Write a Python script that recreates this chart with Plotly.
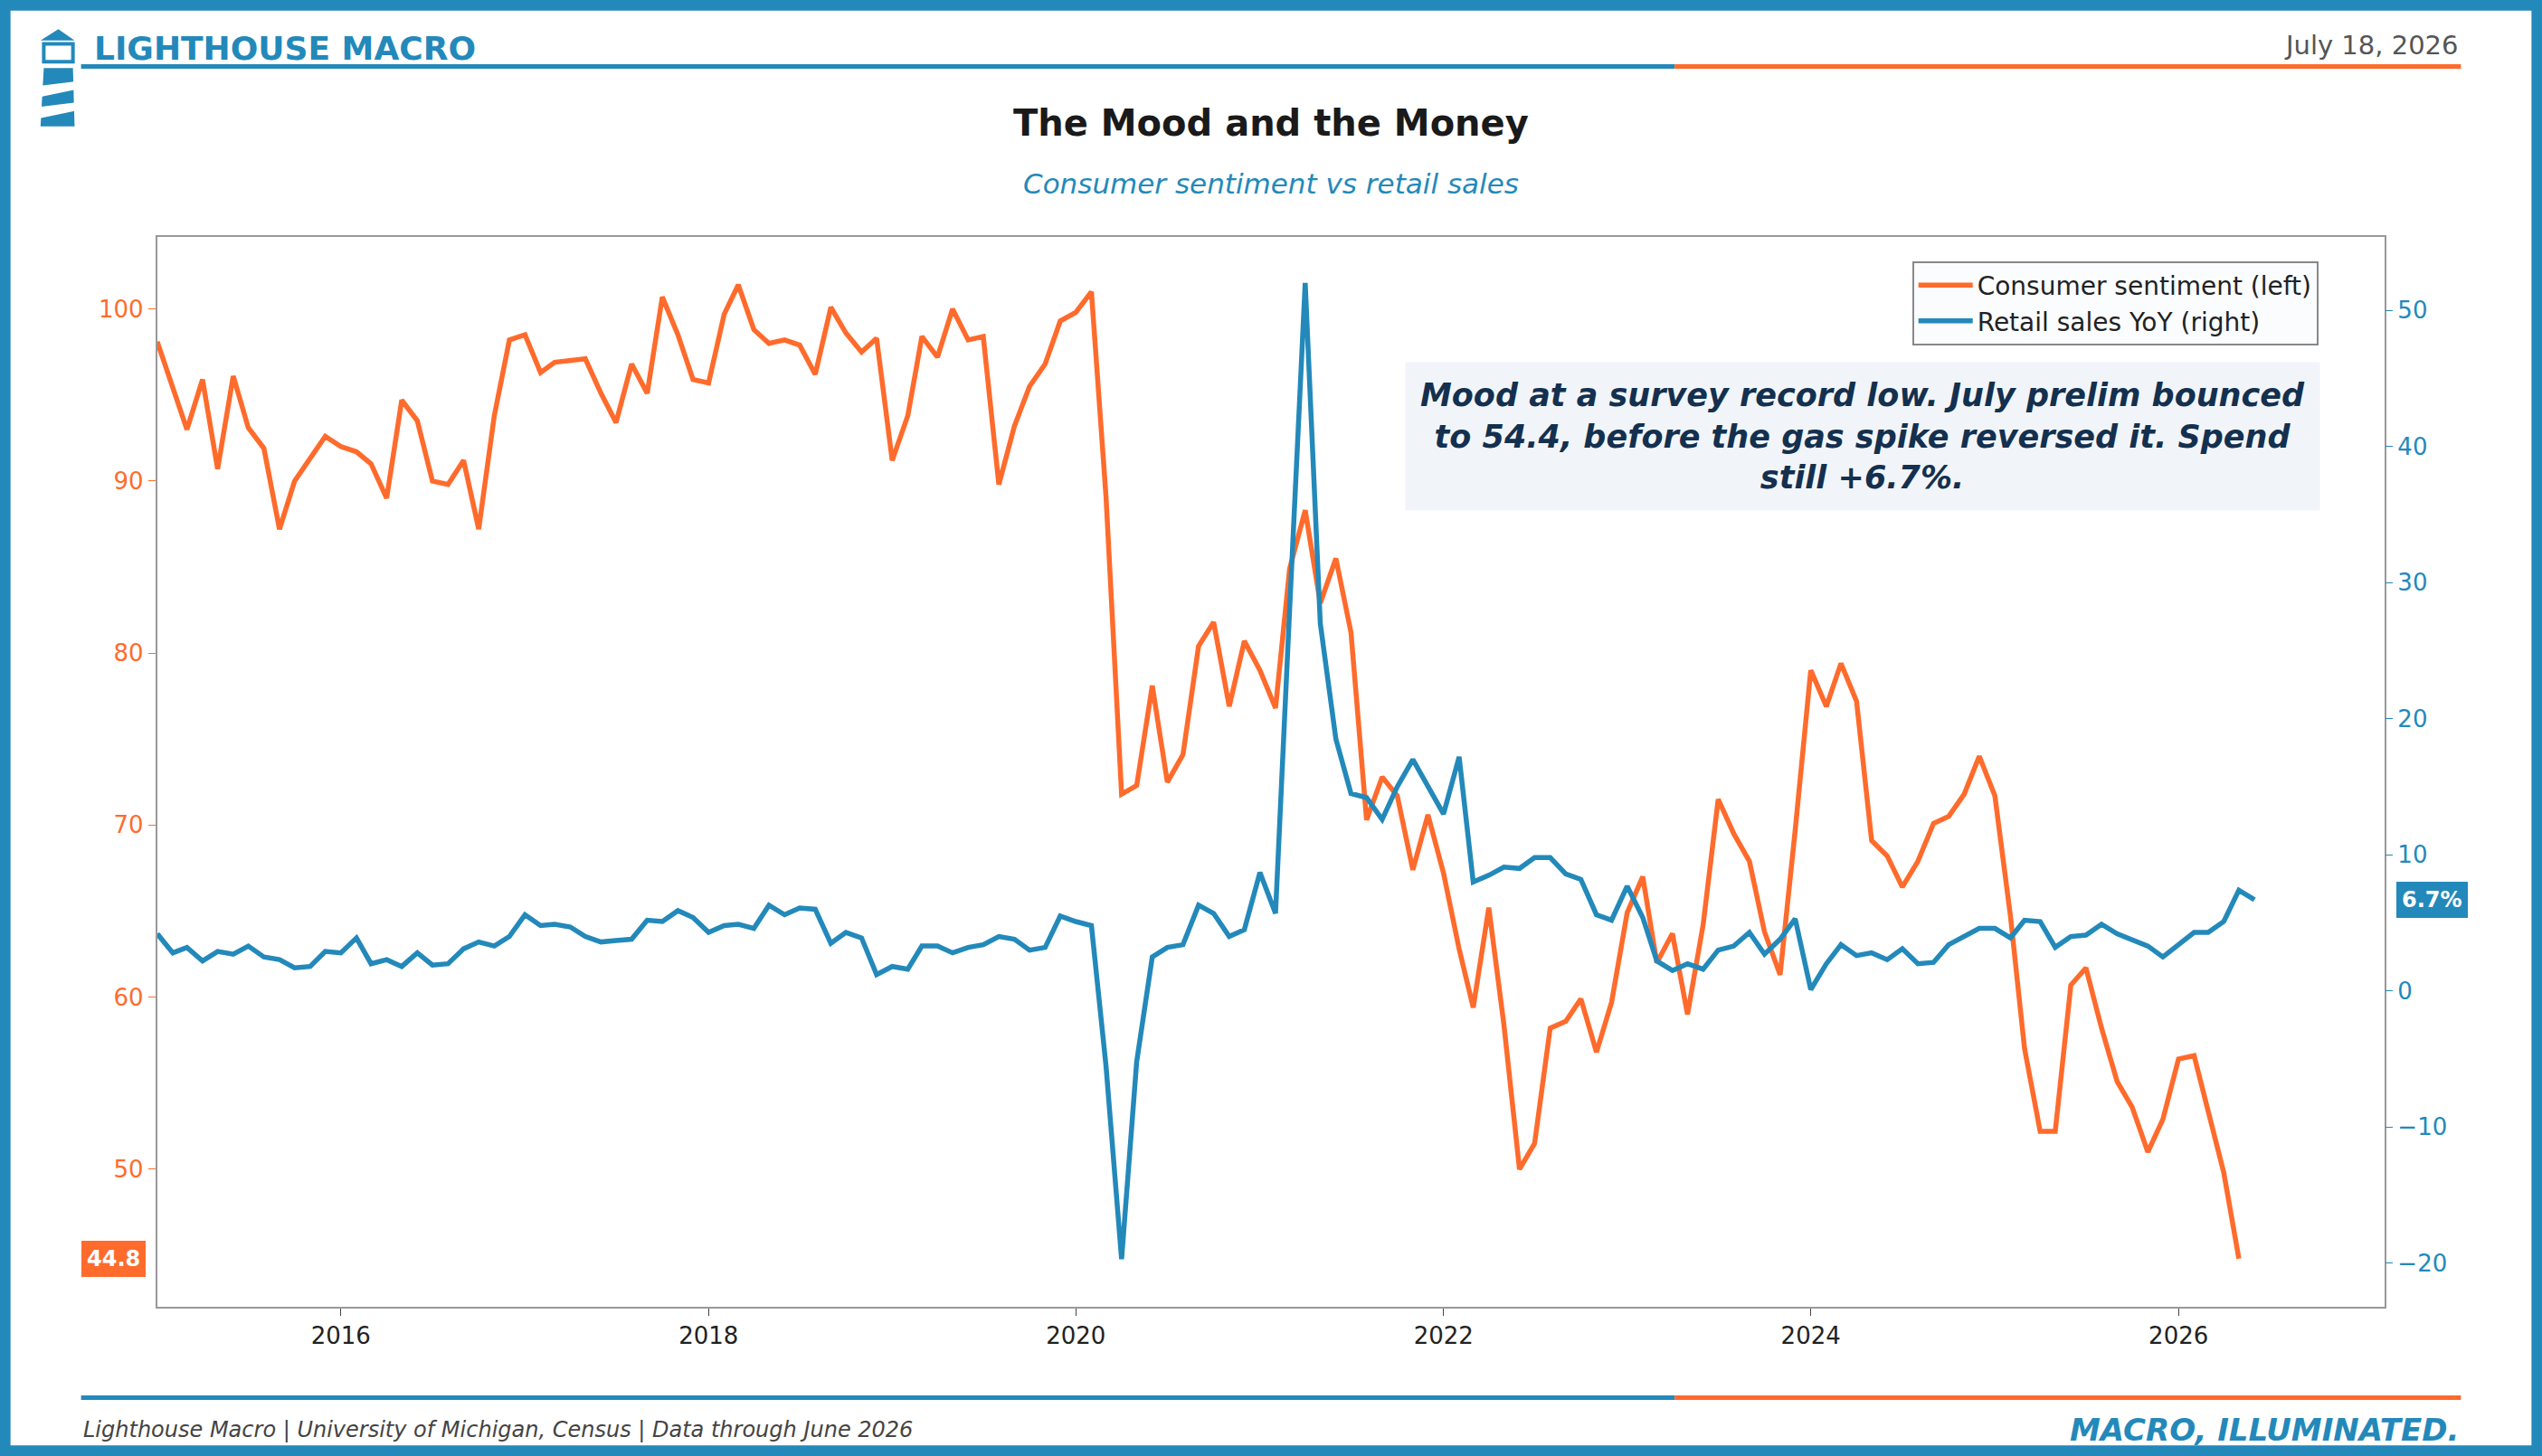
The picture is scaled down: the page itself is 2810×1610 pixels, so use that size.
import pandas as pd
import plotly.graph_objects as go

sentiment = [98.1,95.4,93.0,95.9,90.7,96.1,93.1,91.9,87.2,90.0,91.3,92.6,
             92.0,91.7,91.0,89.0,94.7,93.5,90.0,89.8,91.2,87.2,93.8,98.2,
             98.5,96.3,96.9,97.0,97.1,95.1,93.4,96.8,95.1,100.7,98.5,95.9,
             95.7,99.7,101.4,98.8,98.0,98.2,97.9,96.2,100.1,98.6,97.5,98.3,
             91.2,93.8,98.4,97.2,100.0,98.2,98.4,89.8,93.2,95.5,96.8,99.3,
             99.8,101.0,89.1,71.8,72.3,78.1,72.5,74.1,80.4,81.8,76.9,80.7,
             79.0,76.8,84.9,88.3,82.9,85.5,81.2,70.3,72.8,71.7,67.4,70.6,
             67.2,62.8,59.4,65.2,58.4,50.0,51.5,58.2,58.6,59.9,56.8,59.7,
             64.9,67.0,62.0,63.7,59.0,64.2,71.5,69.5,67.9,63.8,61.3,69.7,
             79.0,76.9,79.4,77.2,69.1,68.2,66.4,67.9,70.1,70.5,71.8,74.0,
             71.7,64.7,57.0,52.2,52.2,60.7,61.7,58.2,55.1,53.6,51.0,52.9,
             56.4,56.6,53.3,49.8,44.8]
retail = [4.2,2.8,3.2,2.2,2.9,2.7,3.3,2.5,2.3,1.7,1.8,2.9,
          2.8,3.9,2.0,2.3,1.8,2.8,1.9,2.0,3.1,3.6,3.3,4.0,
          5.6,4.8,4.9,4.7,4.0,3.6,3.7,3.8,5.2,5.1,5.9,5.4,
          4.3,4.8,4.9,4.6,6.3,5.6,6.1,6.0,3.5,4.3,3.9,1.2,
          1.8,1.6,3.3,3.3,2.8,3.2,3.4,4.0,3.8,3.0,3.2,5.5,
          5.1,4.8,-5.5,-19.7,-5.2,2.5,3.2,3.4,6.3,5.7,4.0,4.5,
          8.7,5.7,28.0,52.0,27.0,18.5,14.5,14.2,12.6,15.0,17.0,15.0,
          13.0,17.2,8.0,8.5,9.1,9.0,9.8,9.8,8.6,8.2,5.6,5.2,
          7.7,5.4,2.2,1.5,2.0,1.6,3.0,3.3,4.3,2.7,3.8,5.3,
          0.1,2.0,3.4,2.6,2.8,2.3,3.1,2.0,2.1,3.4,4.0,4.6,
          4.6,3.9,5.2,5.1,3.2,4.0,4.1,4.9,4.2,3.8,3.3,2.5,
          3.4,4.3,4.3,5.1,7.4,6.7]
sent_dates = pd.date_range("2015-01-01", periods=len(sentiment), freq="MS")
ret_dates = pd.date_range("2015-01-01", periods=len(retail), freq="MS")

ORANGE = "#FF6B2C"
BLUE = "#2389BA"
NAVY = "#14304F"

fig = go.Figure()
fig.add_trace(go.Scatter(x=sent_dates, y=sentiment, mode="lines", name="Consumer sentiment (left)",
                         line=dict(color=ORANGE, width=5.5)))
fig.add_trace(go.Scatter(x=ret_dates, y=retail, mode="lines", name="Retail sales YoY (right)",
                         line=dict(color=BLUE, width=5.5), yaxis="y2"))

x0, x1 = 97/1568, 1471/1568
y0, y1 = 1-806/898, 1-146/898
fig.update_layout(
    width=2810, height=1610, margin=dict(l=0, r=0, t=0, b=0),
    paper_bgcolor="white", plot_bgcolor="white",
    font=dict(family="DejaVu Sans", color="#222"),
    xaxis=dict(domain=[x0, x1], range=["2015-01-01", "2027-02-15"], showgrid=False,
               showline=True, linecolor="#999", linewidth=2, mirror=True,
               ticks="outside", ticklen=8, tickcolor="#444", dtick="M24", tick0="2016-01-01",
               tickformat="%Y", tickfont=dict(size=26, color="#222")),
    yaxis=dict(domain=[y0, y1], range=[42.0, 104.2], showgrid=False, zeroline=False,
               showline=True, linecolor="#999", linewidth=2, mirror=True,
               ticks="outside", ticklen=8, tickcolor=ORANGE, dtick=10,
               tickfont=dict(size=26, color=ORANGE)),
    yaxis2=dict(overlaying="y", side="right", anchor="x", range=[-23.2, 55.4], showgrid=False,
                zeroline=False, ticks="outside", ticklen=8, tickcolor=BLUE,
                tickvals=[-20, -10, 0, 10, 20, 30, 40, 50],
                tickfont=dict(size=26, color=BLUE)),
    legend=dict(x=1430/1568, y=1-161/898, xanchor="right", yanchor="top", xref="paper", yref="paper",
                bgcolor="rgba(250,252,254,0.95)", bordercolor="#888", borderwidth=2,
                font=dict(size=28, color="#222"), itemwidth=60),
    showlegend=True,
)

shapes = []
shapes.append(dict(type="rect", xref="paper", yref="paper", x0=0.002, x1=0.998, y0=0.0035, y1=0.9965,
                   line=dict(color=BLUE, width=12)))
for yy in [1-41/898, 1-862/898]:
    shapes.append(dict(type="line", xref="paper", yref="paper", x0=50/1568, x1=1033/1568, y0=yy, y1=yy,
                       line=dict(color=BLUE, width=5)))
    shapes.append(dict(type="line", xref="paper", yref="paper", x0=1033/1568, x1=1518/1568, y0=yy, y1=yy,
                       line=dict(color=ORANGE, width=5)))
shapes.append(dict(type="path", xref="paper", yref="paper",
                   path=f"M {25/1568} {1-25/898} L {36/1568} {1-18/898} L {46/1568} {1-25/898} Z",
                   fillcolor=BLUE, line=dict(width=0)))
shapes.append(dict(type="rect", xref="paper", yref="paper", x0=27/1568, x1=45/1568, y0=1-38/898, y1=1-27/898,
                   line=dict(color=BLUE, width=4)))
shapes.append(dict(type="path", xref="paper", yref="paper",
                   path=f"M {27/1568} {1-42/898} L {45/1568} {1-42/898} L {46/1568} {1-78/898} L {25/1568} {1-78/898} Z",
                   fillcolor=BLUE, line=dict(width=0)))
for a, b in [(50, 55), (63, 68)]:
    shapes.append(dict(type="path", xref="paper", yref="paper",
                       path=f"M {24/1568} {1-(a+3)/898} L {48/1568} {1-a/898} L {48/1568} {1-b/898} L {24/1568} {1-(b+5)/898} Z",
                       fillcolor="white", line=dict(width=0)))
fig.update_layout(shapes=shapes)

ann = []
ann.append(dict(text="<b>LIGHTHOUSE MACRO</b>", x=57/1568, y=1-30/898, xref="paper", yref="paper",
                xanchor="left", yanchor="middle", showarrow=False, font=dict(size=36, color=BLUE)))
ann.append(dict(text="July 18, 2026", x=1518/1568, y=1-28/898, xref="paper", yref="paper",
                xanchor="right", yanchor="middle", showarrow=False, font=dict(size=29, color="#555")))
ann.append(dict(text="<b>The Mood and the Money</b>", x=784/1568, y=1-76/898, xref="paper", yref="paper",
                xanchor="center", yanchor="middle", showarrow=False, font=dict(size=40, color="#1a1a1a")))
ann.append(dict(text="<i>Consumer sentiment vs retail sales</i>", x=784/1568, y=1-113/898, xref="paper", yref="paper",
                xanchor="center", yanchor="middle", showarrow=False, font=dict(size=31, color=BLUE)))
ann.append(dict(text="<b><i>Mood at a survey record low. July prelim bounced<br>to 54.4, before the gas spike reversed it. Spend<br>still +6.7%.</i></b>",
                x=1149/1568, y=1-269/898, xref="paper", yref="paper", xanchor="center", yanchor="middle",
                showarrow=False, align="center", font=dict(size=35, color=NAVY),
                bgcolor="#F1F5F9", borderpad=16))
ann.append(dict(text="<i>Lighthouse Macro | University of Michigan, Census | Data through June 2026</i>",
                x=50/1568, y=1-882/898, xref="paper", yref="paper", xanchor="left", yanchor="middle",
                showarrow=False, font=dict(size=24, color="#444")))
ann.append(dict(text="<b><i>MACRO, ILLUMINATED.</i></b>", x=1518/1568, y=1-882/898, xref="paper", yref="paper",
                xanchor="right", yanchor="middle", showarrow=False, font=dict(size=34, color=BLUE)))
ann.append(dict(text="<b>44.8</b>", x=70/1568, y=sentiment[-1], xref="paper", yref="y",
                xanchor="center", yanchor="middle", showarrow=False, font=dict(size=24, color="white"),
                bgcolor=ORANGE, bordercolor=ORANGE, borderpad=5))
ann.append(dict(text=f"<b>{retail[-1]}%</b>", x=1500/1568, y=retail[-1], xref="paper", yref="y2",
                xanchor="center", yanchor="middle", showarrow=False, font=dict(size=24, color="white"),
                bgcolor=BLUE, bordercolor=BLUE, borderpad=5))
fig.update_layout(annotations=ann)

fig.write_html("out.html", config={"displayModeBar": False},
               post_script="document.body.style.margin='0';document.body.style.overflow='hidden';")
